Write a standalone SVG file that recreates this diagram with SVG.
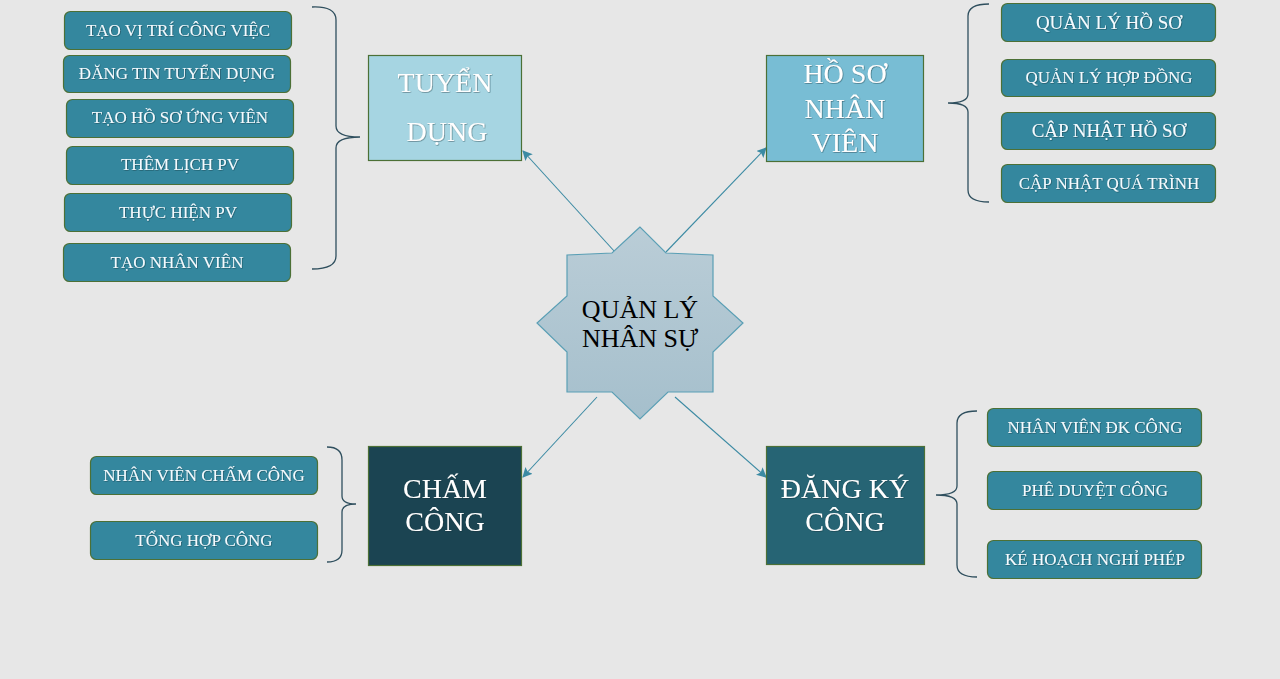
<svg xmlns="http://www.w3.org/2000/svg" width="1280" height="679" viewBox="0 0 1280 679">
<defs>
<linearGradient id="starGrad" x1="0" y1="0" x2="0" y2="1">
<stop offset="0" stop-color="#bacdd7"/>
<stop offset="1" stop-color="#a5bfcc"/>
</linearGradient>
<marker id="arr" viewBox="0 0 10 10" refX="9" refY="5" markerWidth="10" markerHeight="10" markerUnits="userSpaceOnUse" orient="auto">
<path d="M0,0 L10,5 L0,10 L2,5 Z" fill="#3b8aa3"/>
</marker>
<filter id="glow" x="-10%" y="-30%" width="120%" height="160%">
<feDropShadow dx="0.6" dy="0.6" stdDeviation="0.6" flood-color="#0a2a35" flood-opacity="0.6"/>
</filter>
</defs>
<style>
.sb{fill:#34879e;stroke:#4c7036;stroke-width:1.2}
.st{font-family:"Liberation Serif","Times New Roman",serif;font-size:17px;fill:#f4fbff;text-anchor:middle;filter:url(#glow)}
.st19{font-size:19px}
.big{stroke:#4c7036;stroke-width:1.2}
.bt{font-family:"Liberation Serif","Times New Roman",serif;font-size:28px;fill:#ffffff;text-anchor:middle;filter:url(#glow)}
.brace{fill:none;stroke:#2f4f5e;stroke-width:1.3}
.conn{stroke:#3b8aa3;stroke-width:1.1;fill:none}
</style>
<rect width="1280" height="679" fill="#e7e7e7"/>

<g id="connectors">
<line class="conn" x1="615" y1="252" x2="523" y2="151" marker-end="url(#arr)"/>
<line class="conn" x1="666" y1="252" x2="766" y2="148" marker-end="url(#arr)"/>
<line class="conn" x1="597" y1="397" x2="523" y2="477" marker-end="url(#arr)"/>
<line class="conn" x1="675" y1="397" x2="766" y2="477" marker-end="url(#arr)"/>
</g>

<g id="center">
<polygon points="640,227 612,253 567,255 567,296 537,323 567,352 567,392 612,392 640,419 668,392 713,392 713,352 743,323 713,296 713,255 666,253" fill="url(#starGrad)" stroke="#5a9fb5" stroke-width="1.2"/>
<text x="640" y="318" font-family="'Liberation Serif','Times New Roman',serif" font-size="26" fill="#000" text-anchor="middle">QUẢN LÝ</text>
<text x="640" y="347" font-family="'Liberation Serif','Times New Roman',serif" font-size="26" fill="#000" text-anchor="middle">NHÂN SỰ</text>
</g>

<g id="tuyen-dung">
<rect class="big" x="368.5" y="55.5" width="153" height="105" fill="#a6d5e2"/>
<text class="bt" x="445" y="92">TUYỂN</text>
<text class="bt" x="447" y="141">DỤNG</text>
</g>

<g id="ho-so-nhan-vien">
<rect class="big" x="766.5" y="55.5" width="157" height="106" fill="#78bdd4"/>
<text class="bt" x="845" y="83">HỒ SƠ</text>
<text class="bt" x="845" y="118">NHÂN</text>
<text class="bt" x="845" y="152">VIÊN</text>
</g>

<g id="cham-cong">
<rect class="big" x="368.5" y="446.5" width="153" height="119" fill="#1b4452"/>
<text class="bt" x="445" y="498">CHẤM</text>
<text class="bt" x="445" y="531">CÔNG</text>
</g>

<g id="dang-ky-cong">
<rect class="big" x="766.5" y="446.5" width="158" height="118" fill="#266474"/>
<text class="bt" x="845" y="498">ĐĂNG KÝ</text>
<text class="bt" x="845" y="531">CÔNG</text>
</g>

<g id="tuyen-dung-items">
<path class="brace" d="M312,7 Q336,6 336,20 L336,126 Q336,137 360,137 Q336,137 336,148 L336,256 Q336,269 312,269"/>
<g id="tao-vi-tri"><rect class="sb" x="64.5" y="11.5" width="227" height="38" rx="6"/><text class="st" x="178" y="36">TẠO VỊ TRÍ CÔNG VIỆC</text></g>
<g id="dang-tin"><rect class="sb" x="63.5" y="55.5" width="227" height="37" rx="6"/><text class="st" x="177" y="79">ĐĂNG TIN TUYỂN DỤNG</text></g>
<g id="tao-ho-so-ung-vien"><rect class="sb" x="66.5" y="99.5" width="227" height="38" rx="6"/><text class="st" x="180" y="123">TẠO HỒ SƠ ỨNG VIÊN</text></g>
<g id="them-lich-pv"><rect class="sb" x="66.5" y="146.5" width="227" height="38" rx="6"/><text class="st" x="180" y="170">THÊM LỊCH PV</text></g>
<g id="thuc-hien-pv"><rect class="sb" x="64.5" y="193.5" width="227" height="38" rx="6"/><text class="st" x="178" y="218">THỰC HIỆN PV</text></g>
<g id="tao-nhan-vien"><rect class="sb" x="63.5" y="243.5" width="227" height="38" rx="6"/><text class="st" x="177" y="268">TẠO NHÂN VIÊN</text></g>
</g>

<g id="ho-so-items">
<path class="brace" d="M989,4 Q968,4 968,16 L968,94 Q968,103 948,103 Q968,103 968,112 L968,190 Q968,202 989,202"/>
<g id="quan-ly-ho-so"><rect class="sb" x="1001.5" y="3.5" width="214" height="38" rx="6"/><text class="st st19" x="1109" y="29">QUẢN LÝ HỒ SƠ</text></g>
<g id="quan-ly-hop-dong"><rect class="sb" x="1001.5" y="59.5" width="214" height="37" rx="6"/><text class="st" x="1109" y="83">QUẢN LÝ HỢP ĐỒNG</text></g>
<g id="cap-nhat-ho-so"><rect class="sb" x="1001.5" y="112.5" width="214" height="37" rx="6"/><text class="st st19" x="1109" y="137">CẬP NHẬT HỒ SƠ</text></g>
<g id="cap-nhat-qua-trinh"><rect class="sb" x="1001.5" y="164.5" width="214" height="38" rx="6"/><text class="st" x="1109" y="189">CẬP NHẬT QUÁ TRÌNH</text></g>
</g>

<g id="cham-cong-items">
<path class="brace" d="M327,447 Q342,447 342,460 L342,496 Q342,504 356,504 Q342,504 342,512 L342,550 Q342,562 327,562"/>
<g id="nv-cham-cong"><rect class="sb" x="90.5" y="456.5" width="227" height="38" rx="6"/><text class="st" x="204" y="481">NHÂN VIÊN CHẤM CÔNG</text></g>
<g id="tong-hop-cong"><rect class="sb" x="90.5" y="521.5" width="227" height="38" rx="6"/><text class="st" x="204" y="546">TỔNG HỢP CÔNG</text></g>
</g>

<g id="dang-ky-items">
<path class="brace" d="M977,411 Q957,411 957,423 L957,486 Q957,495 936,495 Q957,495 957,504 L957,565 Q957,577 977,577"/>
<g id="nv-dk-cong"><rect class="sb" x="987.5" y="408.5" width="214" height="38" rx="6"/><text class="st" x="1095" y="433">NHÂN VIÊN ĐK CÔNG</text></g>
<g id="phe-duyet-cong"><rect class="sb" x="987.5" y="471.5" width="214" height="38" rx="6"/><text class="st" x="1095" y="496">PHÊ DUYỆT CÔNG</text></g>
<g id="ke-hoach-nghi-phep"><rect class="sb" x="987.5" y="540.5" width="214" height="38" rx="6"/><text class="st" x="1095" y="565">KÉ HOẠCH NGHỈ PHÉP</text></g>
</g>
</svg>
